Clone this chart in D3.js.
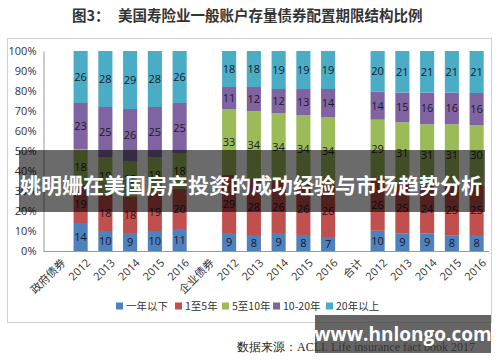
<!DOCTYPE html>
<html>
<head>
<meta charset="utf-8">
<script src="https://cdn.jsdelivr.net/npm/d3@7"></script>
<style>
  body { margin: 0; background: #fff; }
  svg { display: block; }
</style>
</head>
<body>
<svg id="chart" width="500" height="362"></svg>
<script>
// category slots; group headers have no bar
const categories = ['政府债券', '2012', '2013', '2014', '2015', '2016',
  '企业债券', '2012', '2013', '2014', '2015', '2016',
  '合计', '2012', '2013', '2014', '2015', '2016']

const seriesNames = ['一年以下', '1至5年', '5至10年', '10-20年', '20年以上']
const colors = ['#4f81bd', '#c0504d', '#9bbb59', '#8064a2', '#4bacc6']

const underOne  = [null, 14, 10, 9, 10, 11, null, 9, 8, 9, 8, 7, null, 10, 9, 9, 8, 8]
const oneToFive = [null, 19, 18, 18, 19, 20, null, 29, 28, 26, 26, 26, null, 26, 25, 24, 25, 25]
const fiveToTen = [null, 18, 19, 18, 18, 18, null, 33, 34, 34, 34, 34, null, 29, 31, 31, 31, 30]
const tenToTwenty = [null, 23, 25, 26, 25, 25, null, 11, 12, 12, 13, 14, null, 14, 15, 16, 16, 16]
const overTwenty = [null, 26, 28, 29, 28, 26, null, 18, 18, 19, 19, 19, null, 20, 21, 21, 21, 21]

const yTicks = [0, 0.1, 0.2, 0.3, 0.4, 0.5, 0.6, 0.7, 0.8, 0.9, 1]

const values = [underOne, oneToFive, fiveToTen, tenToTwenty, overTwenty]
const rows = categories.map((c, i) => {
  let r = { idx: i, label: c }
  seriesNames.forEach((s, k) => { r[s] = values[k][i] || 0 })
  return r
})

const svg = d3.select('#chart')
const cjk = '"Noto Sans CJK SC", "Noto Sans", sans-serif'

// title + frame
svg.append('text')
  .attr('x', 72).attr('y', 21)
  .attr('font-family', cjk).attr('font-size', 14.5).attr('font-weight', 700)
  .attr('fill', '#333')
  .text('图3：')
svg.append('text')
  .attr('x', 118).attr('y', 21)
  .attr('font-family', cjk).attr('font-size', 14.5).attr('font-weight', 700)
  .attr('fill', '#333')
  .text('美国寿险业一般账户存量债券配置期限结构比例')

svg.append('rect')
  .attr('x', 7.5).attr('y', 38.5).attr('width', 484).attr('height', 284)
  .attr('fill', 'none').attr('stroke', '#d0d0d0')

const x = d3.scaleBand()
  .domain(d3.range(categories.length))
  .range([43.5, 489])
  .paddingInner(0.43).paddingOuter(0.215)

const y = d3.scaleLinear().domain([0, 1]).range([251, 51])

const stack = d3.stack().keys(seriesNames).offset(d3.stackOffsetExpand)
const stacked = stack(rows.filter(r => seriesNames.some(s => r[s] > 0)))

const layers = svg.append('g').selectAll('g')
  .data(stacked)
  .join('g')
  .attr('fill', (d, i) => colors[i])

layers.selectAll('rect')
  .data(d => d)
  .join('rect')
  .attr('x', d => x(d.data.idx))
  .attr('width', x.bandwidth())
  .attr('y', d => y(d[1]))
  .attr('height', d => y(d[0]) - y(d[1]))

layers.selectAll('text')
  .data(d => d.map(p => Object.assign(p, { key: d.key })))
  .join('text')
  .attr('x', d => x(d.data.idx) + x.bandwidth() / 2)
  .attr('y', d => (y(d[0]) + y(d[1])) / 2 + 4)
  .attr('text-anchor', 'middle')
  .attr('font-family', '"Open Sans", sans-serif')
  .attr('font-size', 11)
  .attr('fill', '#1a1a2a')
  .text(d => d.data[d.key])

// axes
const yAxis = svg.append('g')
  .attr('transform', 'translate(43.5,0)')
  .call(d3.axisLeft(y).tickValues(yTicks).tickFormat(d3.format('.0%')).tickSize(0).tickPadding(7))
yAxis.select('.domain').attr('stroke', '#999')
yAxis.selectAll('text')
  .attr('font-family', '"Open Sans", sans-serif')
  .attr('font-size', 11).attr('fill', '#333')

svg.append('line')
  .attr('x1', 43.5).attr('x2', 489)
  .attr('y1', 251.5).attr('y2', 251.5)
  .attr('stroke', '#999')

svg.append('g').selectAll('text')
  .data(rows)
  .join('text')
  .attr('transform', d => `translate(${x(d.idx) + x.bandwidth() / 2 + 5},258) rotate(-45)`)
  .attr('text-anchor', 'end')
  .attr('dy', '0.7em')
  .attr('font-family', d => /\d/.test(d.label) ? '"Open Sans", sans-serif' : cjk)
  .attr('font-size', 11)
  .attr('fill', '#333')
  .text(d => d.label)

// legend
const legendX = [116, 175, 222, 273, 326]
const legend = svg.append('g').selectAll('g')
  .data(seriesNames)
  .join('g')
  .attr('transform', (d, i) => `translate(${legendX[i]},306)`)
legend.append('rect')
  .attr('x', 0).attr('y', -3.5).attr('width', 7).attr('height', 7)
  .attr('fill', (d, i) => colors[i])
legend.append('text')
  .attr('x', 10).attr('y', 4)
  .attr('font-family', cjk).attr('font-size', 10.5).attr('fill', '#333')
  .text(d => d)

// source
svg.append('text')
  .attr('x', 475).attr('y', 351)
  .attr('text-anchor', 'end')
  .attr('font-family', '"Liberation Serif", serif')
  .attr('font-size', 12).attr('fill', '#222')
  .text('数据来源：ACLI. Life insurance fact book 2017')

// site overlays as they appear in the picture
svg.append('rect')
  .attr('x', 19).attr('y', 150).attr('width', 466).attr('height', 62)
  .attr('fill', '#000').attr('opacity', 0.58)
svg.append('text')
  .attr('x', 251).attr('y', 193)
  .attr('text-anchor', 'middle')
  .attr('font-family', cjk).attr('font-size', 21).attr('font-weight', 700)
  .attr('fill', '#fff')
  .text('姚明姗在美国房产投资的成功经验与市场趋势分析')

svg.append('rect')
  .attr('x', 315).attr('y', 315).attr('width', 176).attr('height', 38)
  .attr('fill', '#3a3a3a').attr('opacity', 0.78)
svg.append('text')
  .attr('x', 403).attr('y', 341)
  .attr('text-anchor', 'middle')
  .attr('font-family', '"Open Sans", sans-serif').attr('font-size', 19).attr('font-weight', 700)
  .attr('fill', '#fff')
  .text('www.hnlongo.com')
</script>
</body>
</html>
